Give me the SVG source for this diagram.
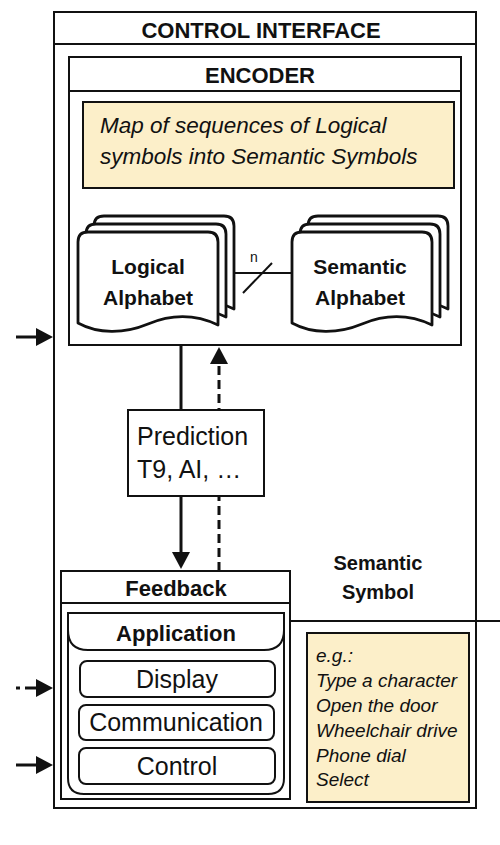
<svg xmlns="http://www.w3.org/2000/svg" width="500" height="845" viewBox="0 0 500 845">
<style>
  .box { fill: #ffffff; stroke: #111111; stroke-width: 2; }
  .note { fill: #fcefc9; stroke: #111111; stroke-width: 2; }
  .doc { fill: #ffffff; stroke: #111111; stroke-width: 2.8; stroke-linejoin: round; }
  .conn { fill: none; stroke: #111111; stroke-width: 3; }
  .thin { fill: none; stroke: #111111; stroke-width: 2; }
  .t { font-family: "Liberation Sans", Arial, sans-serif; fill: #111111; }
  .b { font-weight: bold; }
  .i { font-style: italic; }
</style>
<defs>
  <marker id="ah" markerUnits="userSpaceOnUse" markerWidth="17" markerHeight="18" refX="2" refY="9" orient="auto">
    <path d="M0,0 L17,9 L0,18 Z" fill="#111111"/>
  </marker>
  <path id="docshape" d="M0,91 L0,10 Q0,0 10,0 L130,0 Q140,0 140,10 L140,93 C117,82 94,82 70,92 C46,102 20,102 0,91 Z"/>
</defs>
<rect width="500" height="845" fill="#ffffff"/>

<g id="control-interface">
  <rect class="box" x="54" y="12" width="422" height="796"/>
  <line class="thin" x1="54" y1="44" x2="476" y2="44"/>
  <text class="t b" x="261" y="38" font-size="22" text-anchor="middle">CONTROL INTERFACE</text>
</g>

<g id="encoder">
  <rect class="box" x="69" y="57" width="392" height="288"/>
  <line class="thin" x1="69" y1="91" x2="461" y2="91"/>
  <text class="t b" x="260" y="83" font-size="22" text-anchor="middle">ENCODER</text>
</g>

<g id="map-note">
  <rect class="note" x="83" y="102" width="371" height="86"/>
  <text class="t i" x="100" y="133" font-size="22.5">Map of sequences of Logical</text>
  <text class="t i" x="100" y="164" font-size="22.5">symbols into Semantic Symbols</text>
</g>

<g id="connectors">
  <line class="conn" x1="16" y1="337" x2="38" y2="337" marker-end="url(#ah)"/>
  <line class="conn" x1="16" y1="688" x2="20" y2="688"/>
  <line class="conn" x1="25" y1="688" x2="38" y2="688" marker-end="url(#ah)"/>
  <line class="conn" x1="16" y1="765" x2="38" y2="765" marker-end="url(#ah)"/>
  <line class="conn" x1="181" y1="345" x2="181" y2="554" marker-end="url(#ah)"/>
  <line class="conn" x1="219" y1="571" x2="219" y2="362" stroke-dasharray="9,5" marker-end="url(#ah)"/>
  <line class="thin" x1="234" y1="273" x2="292" y2="273"/>
  <line class="thin" x1="243" y1="293" x2="272" y2="263"/>
  <text class="t" x="250" y="262" font-size="14">n</text>
  <line class="thin" x1="290" y1="621" x2="500" y2="621"/>
</g>

<g id="logical-alphabet">
  <use href="#docshape" class="doc" transform="translate(94,216)"/>
  <use href="#docshape" class="doc" transform="translate(86,224)"/>
  <use href="#docshape" class="doc" transform="translate(78,232)"/>
  <text class="t b" x="148" y="274" font-size="21" text-anchor="middle">Logical</text>
  <text class="t b" x="148" y="305" font-size="21" text-anchor="middle">Alphabet</text>
</g>

<g id="semantic-alphabet">
  <use href="#docshape" class="doc" transform="translate(308,216)"/>
  <use href="#docshape" class="doc" transform="translate(300,224)"/>
  <use href="#docshape" class="doc" transform="translate(292,232)"/>
  <text class="t b" x="360" y="274" font-size="21" text-anchor="middle">Semantic</text>
  <text class="t b" x="360" y="305" font-size="21" text-anchor="middle">Alphabet</text>
</g>

<g id="prediction">
  <rect class="box" x="128" y="410" width="136" height="86"/>
  <text class="t" x="137" y="445" font-size="25">Prediction</text>
  <text class="t" x="137" y="478" font-size="25">T9, AI, …</text>
</g>

<g id="semantic-symbol-label">
  <text class="t b" x="378" y="570" font-size="20" text-anchor="middle">Semantic</text>
  <text class="t b" x="378" y="599" font-size="20" text-anchor="middle">Symbol</text>
</g>

<g id="feedback">
  <rect class="box" x="61" y="571" width="229" height="228"/>
  <line class="thin" x1="61" y1="603" x2="290" y2="603"/>
  <text class="t b" x="176" y="596" font-size="22" text-anchor="middle">Feedback</text>
</g>

<g id="application">
  <path class="box" d="M68,613 L284,613 L284,778 Q284,794 268,794 L84,794 Q68,794 68,778 Z"/>
  <path class="thin" d="M68,630 Q68,650 88,650 L264,650 Q284,650 284,630"/>
  <text class="t b" x="176" y="641" font-size="22" text-anchor="middle">Application</text>
</g>

<g id="display">
  <rect class="box" x="80" y="661" width="195" height="36" rx="7"/>
  <text class="t" x="177" y="688" font-size="25" text-anchor="middle">Display</text>
</g>

<g id="communication">
  <rect class="box" x="79" y="705" width="195" height="35" rx="7"/>
  <text class="t" x="176" y="731" font-size="25" text-anchor="middle">Communication</text>
</g>

<g id="control">
  <rect class="box" x="79" y="748" width="196" height="36" rx="7"/>
  <text class="t" x="177" y="775" font-size="25" text-anchor="middle">Control</text>
</g>

<g id="examples">
  <rect class="note" x="307" y="633" width="162" height="169"/>
  <text class="t i" x="316" y="662" font-size="19">e.g.:</text>
  <text class="t i" x="316" y="687" font-size="19">Type a character</text>
  <text class="t i" x="316" y="712" font-size="19">Open the door</text>
  <text class="t i" x="316" y="737" font-size="19">Wheelchair drive</text>
  <text class="t i" x="316" y="762" font-size="19">Phone dial</text>
  <text class="t i" x="316" y="786" font-size="19">Select</text>
</g>
</svg>
